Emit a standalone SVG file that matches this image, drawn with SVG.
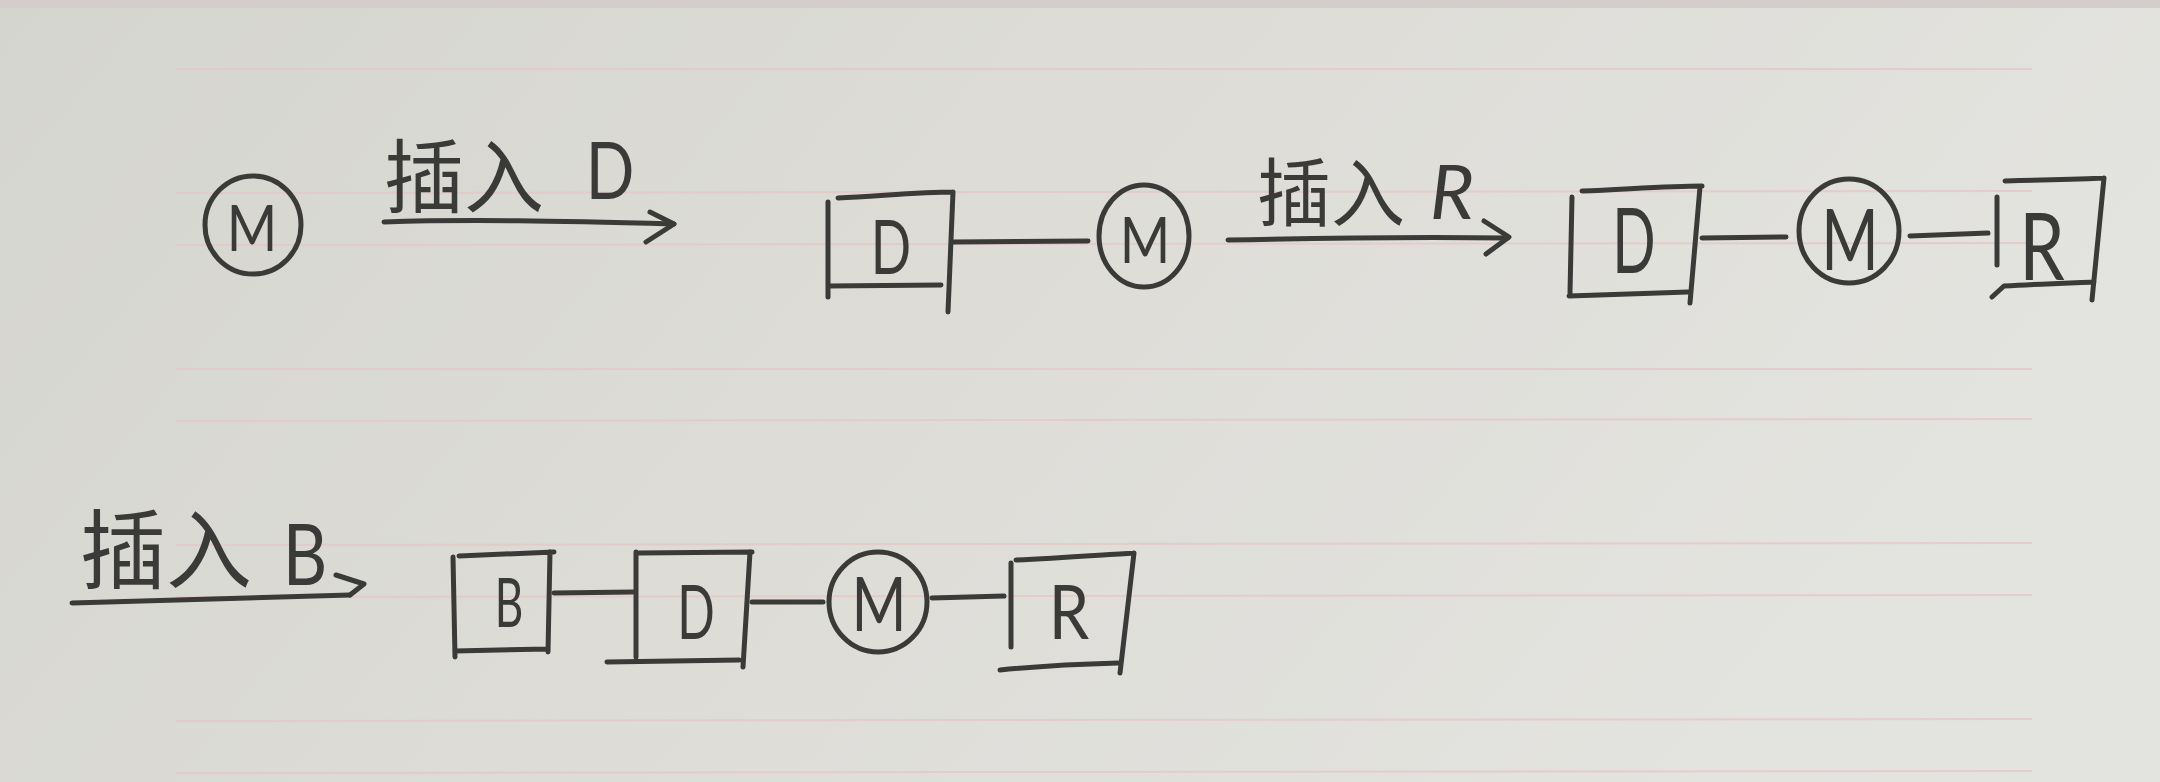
<svg xmlns="http://www.w3.org/2000/svg" width="2160" height="782" viewBox="0 0 2160 782">
<defs>
<linearGradient id="paper" x1="0" y1="0" x2="1" y2="0.3">
<stop offset="0" stop-color="#d5d5cf"/>
<stop offset="0.5" stop-color="#dddcd7"/>
<stop offset="1" stop-color="#e3e3df"/>
</linearGradient>
<style>
.ink{fill:none;stroke:#3a3a38;stroke-width:5;stroke-linecap:round;stroke-linejoin:round}
.rule{stroke:#e3c9cb;stroke-width:2;opacity:0.8}
.lt{font-family:Lato,"Open Sans","Liberation Sans",sans-serif;font-weight:400;fill:#3a3a38;text-anchor:middle}
.cn{font-family:"Noto Sans CJK SC","Noto Sans CJK JP",sans-serif;fill:#3a3a38;font-weight:400}
</style>
</defs>
<rect width="2160" height="782" fill="url(#paper)"/>
<rect width="2160" height="8" fill="#d3cecb"/>
<g id="rules">
<line class="rule" x1="176" y1="69" x2="2032" y2="69"/>
<line class="rule" x1="176" y1="193" x2="2032" y2="191"/>
<line class="rule" x1="176" y1="245" x2="2032" y2="243"/>
<line class="rule" x1="176" y1="369" x2="2032" y2="369"/>
<line class="rule" x1="176" y1="421" x2="2032" y2="419"/>
<line class="rule" x1="176" y1="545" x2="2032" y2="543"/>
<line class="rule" x1="176" y1="597" x2="2032" y2="595"/>
<line class="rule" x1="176" y1="721" x2="2032" y2="719"/>
<line class="rule" x1="176" y1="773" x2="2032" y2="771"/>
</g>

<g id="labels">
<g id="label-d">
<text class="cn" x="384" y="206" font-size="80">插入</text>
<text class="lt" transform="translate(610,199) scale(0.8,1)" font-size="80">D</text>
</g>
<g id="label-r">
<text class="cn" x="1257" y="220" font-size="74">插入</text>
<text class="lt" x="1452" y="219" font-size="76" font-style="italic">R</text>
</g>
<g id="label-b">
<text class="cn" x="80" y="582" font-size="86">插入</text>
<text class="lt" transform="translate(305,585) scale(0.8,1)" font-size="86">B</text>
</g>
</g>

<g id="connectors">
<path class="ink" d="M384,222 C470,219 560,221 674,224"/>
<path class="ink" d="M650,212 L674,224 L646,242"/>
<path class="ink" d="M1228,240 C1320,238 1420,237 1508,238"/>
<path class="ink" d="M1484,221 L1509,237 L1486,254"/>
<path class="ink" d="M72,603 C170,600 270,598 350,595"/>
<path class="ink" d="M336,575 L364,584 L350,595"/>
<path class="ink" d="M953,242 L1088,241"/>
<path class="ink" d="M1702,238 L1786,237"/>
<path class="ink" d="M1910,236 L1988,233"/>
<path class="ink" d="M554,593 L633,592"/>
<path class="ink" d="M752,602 L823,602"/>
<path class="ink" d="M932,598 L1004,596"/>
</g>

<g id="node-m1">
<ellipse class="ink" cx="253" cy="225" rx="48" ry="49"/>
<text class="lt" transform="translate(252,251) scale(0.85,1)" font-size="64">M</text>
</g>

<g id="node-d1">
<path class="ink" d="M838,198 C880,196 920,192 953,192 M828,202 L828,297 M953,192 L948,312 M828,286 L941,285"/>
<text class="lt" transform="translate(891,274) scale(0.7,1)" font-size="76">D</text>
</g>
<g id="node-m2">
<ellipse class="ink" cx="1144" cy="236" rx="45" ry="51"/>
<text class="lt" transform="translate(1145,263) scale(0.85,1)" font-size="64">M</text>
</g>

<g id="node-d2">
<path class="ink" d="M1582,191 C1630,189 1670,186 1702,186 M1572,197 L1570,293 M1700,187 L1690,303 M1569,296 L1688,292"/>
<text class="lt" transform="translate(1634,273) scale(0.62,1)" font-size="92">D</text>
</g>
<g id="node-m3">
<ellipse class="ink" cx="1849" cy="231" rx="50" ry="52"/>
<text class="lt" transform="translate(1850,270) scale(0.72,1)" font-size="86">M</text>
</g>
<g id="node-r1">
<path class="ink" d="M2005,181 C2050,180 2080,179 2104,178 M1997,197 L1997,265 M2104,178 L2092,300 M1992,297 L2004,286 C2040,284 2070,283 2094,282"/>
<text class="lt" transform="translate(2042,280) scale(0.78,1)" font-size="93">R</text>
</g>

<g id="node-b">
<path class="ink" d="M459,556 L554,552 M453,557 L455,657 M550,552 L548,652 M455,651 L548,649"/>
<text class="lt" transform="translate(509,627) scale(0.65,1)" font-size="68">B</text>
</g>
<g id="node-d3">
<path class="ink" d="M639,553 L752,552 M636,552 L636,657 M750,552 L743,667 M607,662 L739,660"/>
<text class="lt" transform="translate(696,639) scale(0.65,1)" font-size="76">D</text>
</g>
<g id="node-m4">
<ellipse class="ink" cx="878" cy="602" rx="49" ry="50"/>
<text class="lt" transform="translate(879,631) scale(0.78,1)" font-size="76">M</text>
</g>
<g id="node-r2">
<path class="ink" d="M1016,560 C1060,558 1100,555 1134,553 M1011,563 L1011,647 M1134,553 L1120,673 M1000,670 C1040,666 1080,664 1118,663"/>
<text class="lt" transform="translate(1069,639) scale(0.85,1)" font-size="76">R</text>
</g>
</svg>
